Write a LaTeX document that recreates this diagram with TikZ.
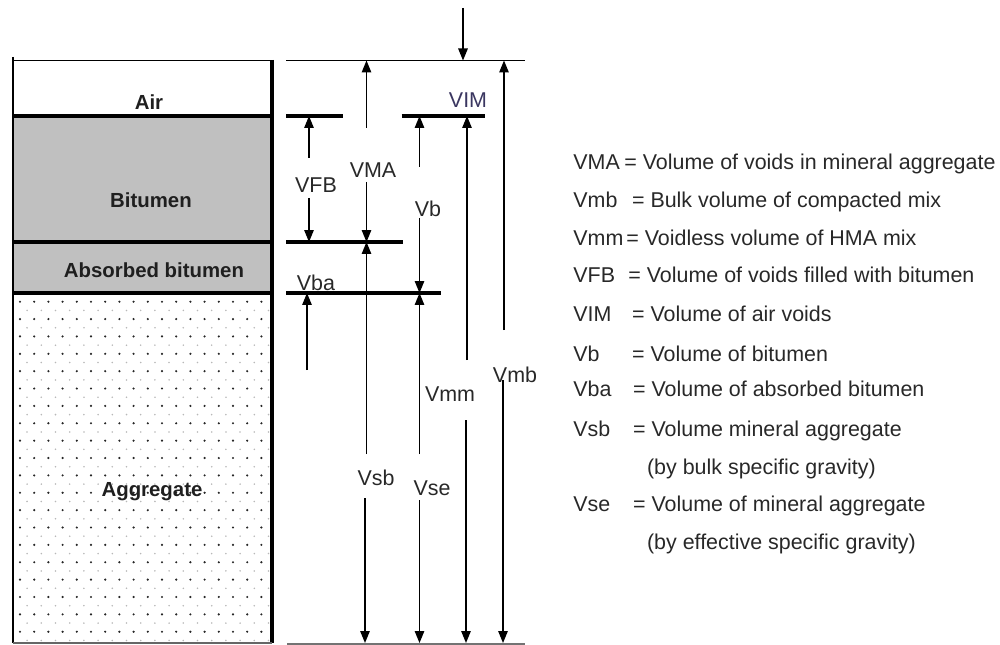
\documentclass[tikz,border=0pt]{standalone}
\usepackage{fontspec}
\setmainfont{Liberation Sans}
\usetikzlibrary{arrows.meta}
\definecolor{bitgray}{RGB}{192,192,192}
\definecolor{inkgray}{RGB}{40,40,40}
\definecolor{vimblue}{RGB}{58,54,96}

\begin{document}
\begin{tikzpicture}[x=0.02cm,y=-0.02cm,
  level/.style={line width=2pt},
  thinlevel/.style={line width=0.85pt},
  dim/.style={line width=0.75pt,-{Triangle[length=0.24cm,width=0.19cm]}},
  lbl/.style={inner sep=0pt,anchor=base,text=inkgray,font=\fontsize{12.2}{14}\selectfont},
  layer/.style={inner sep=0pt,anchor=base,text=black!88,font=\fontsize{11.6}{14}\selectfont\bfseries},
  key/.style={inner sep=0pt,anchor=base west,text=inkgray,font=\fontsize{12.2}{14}\selectfont}]
\useasboundingbox (0,0) rectangle (1000,645);
% the mix column
\fill[bitgray] (13,116) rectangle (272,293);
\foreach \i in {0,...,17}
  \foreach \j in {0,...,19}
  {
    \fill[black!85] (20+14.2*\i,301.7+17.37*\j) circle (0.68pt);
    \fill[black!28] (27.1+14.2*\i,310.4+17.37*\j) circle (0.5pt);
  }
\draw[line width=1.1pt] (13,57) -- (13,643);
\draw[line width=2pt] (272,60) -- (272,643);
\draw[thinlevel] (13,60.5) -- (272,60.5);
\draw[level] (13,116) -- (274,116);
\draw[level] (13,242) -- (274,242);
\draw[level] (13,293) -- (274,293);
\draw[line width=0.6pt,black!60] (13,643) -- (272,643);
\node[layer] (air) at (149,110) {Air};
\node[layer] (bitumen) at (151,208) {Bitumen};
\node[layer] (absorbed) at (154,277) {Absorbed bitumen};
\node[layer] (aggregate) at (152,496) {Aggregate};
% levels on the right
\coordinate (lvTop) at (286,60.5);
\coordinate (lvAir) at (286,116);
\coordinate (lvBit) at (286,242);
\coordinate (lvAbs) at (286,293);
\coordinate (lvBot) at (286,643);
\draw[thinlevel] (lvTop) -- ++(239,0);
\draw[level] (lvAir) -- ++(57,0);
\draw[level] (lvAir) ++(115.7,0) -- ++(83.3,0);
\draw[level] (lvBit) -- ++(116.7,0);
\draw[level] (lvAbs) -- ++(154.7,0);
\draw[line width=0.6pt,black!55] (lvBot) ++(1,1) -- ++(238,0);
% dimension arrows
\coordinate (vimA) at (463,8);
\coordinate (vfbA) at (309,158);
\coordinate (vfbB) at (309,198);
\coordinate (vmaA) at (366.5,128);
\coordinate (vmaB) at (366.5,182);
\coordinate (vsbA) at (366.5,454);
\coordinate (vsbB) at (365,498);
\coordinate (vbA) at (419.5,167);
\coordinate (vbB) at (419.5,218);
\coordinate (vseA) at (419.5,454);
\coordinate (vseB) at (419.5,500);
\coordinate (vbaA) at (307,370);
\coordinate (vmmA) at (467,360);
\coordinate (vmmB) at (466,420);
\coordinate (vmbA) at (504,330);
\coordinate (vmbB) at (503,380);
\draw[dim] (vimA) -- (vimA |- lvTop);
\draw[dim] (vfbA) -- (vfbA |- lvAir);
\draw[dim] (vfbB) -- (vfbB |- lvBit);
\draw[dim] (vmaA) -- (vmaA |- lvTop);
\draw[dim] (vmaB) -- (vmaB |- lvBit);
\draw[dim] (vsbA) -- (vsbA |- lvBit);
\draw[dim] (vsbB) -- (vsbB |- lvBot);
\draw[dim] (vbA) -- (vbA |- lvAir);
\draw[dim] (vbB) -- (vbB |- lvAbs);
\draw[dim] (vseA) -- (vseA |- lvAbs);
\draw[dim] (vseB) -- (vseB |- lvBot);
\draw[dim] (vbaA) -- (vbaA |- lvAbs);
\draw[dim] (vmmA) -- (vmmA |- lvAir);
\draw[dim] (vmmB) -- (vmmB |- lvBot);
\draw[dim] (vmbA) -- (vmbA |- lvTop);
\draw[dim] (vmbB) -- (vmbB |- lvBot);
\node[lbl,text=vimblue] (lVIM) at (468,108) {VIM};
\node[lbl] (lVFB) at (316,193) {VFB};
\node[lbl] (lVMA) at (373,178) {VMA};
\node[lbl] (lVb) at (428,216) {Vb};
\node[lbl] (lVba) at (316,290) {Vba};
\node[lbl] (lVmb) at (515,382) {Vmb};
\node[lbl] (lVmm) at (450,401) {Vmm};
\node[lbl] (lVsb) at (376,485) {Vsb};
\node[lbl] (lVse) at (432,495) {Vse};
% legend
\node[key] (kVMA) at (573,170) {VMA};
\node[key] (dVMA) at (624,170) {= Volume of voids in mineral aggregate};
\node[key] (kVmb) at (573,208) {Vmb};
\node[key] (dVmb) at (631.7,208) {= Bulk volume of compacted mix};
\node[key] (kVmm) at (573,245) {Vmm};
\node[key] (dVmm) at (626,245) {= Voidless volume of HMA mix};
\node[key] (kVFB) at (573,282) {VFB};
\node[key] (dVFB) at (628,282) {= Volume of voids filled with bitumen};
\node[key] (kVIM) at (573,321) {VIM};
\node[key] (dVIM) at (631.7,321) {= Volume of air voids};
\node[key] (kVb) at (573,361) {Vb};
\node[key] (dVb) at (631.7,361) {= Volume of bitumen};
\node[key] (kVba) at (573,396) {Vba};
\node[key] (dVba) at (632.7,396) {= Volume of absorbed bitumen};
\node[key] (kVsb) at (573,436) {Vsb};
\node[key] (dVsb) at (632.7,436) {= Volume mineral aggregate};
\node[key] (nVsb) at (646.7,474) {(by bulk specific gravity)};
\node[key] (kVse) at (573,511) {Vse};
\node[key] (dVse) at (632.7,511) {= Volume of mineral aggregate};
\node[key] (nVse) at (646.7,549) {(by effective specific gravity)};
\end{tikzpicture}
\end{document}
